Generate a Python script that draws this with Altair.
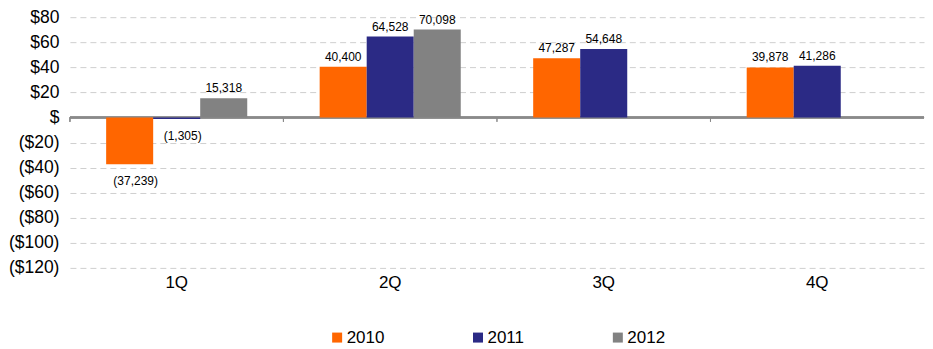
import altair as alt
import pandas as pd

quarters = ["1Q", "2Q", "3Q", "4Q"]
years = ["2010", "2011", "2012"]
v2010 = [-37239, 40400, 47287, 39878]
v2011 = [-1305, 64528, 54648, 41286]
v2012 = [15318, 70098, None, None]
colors = ["#FF6600", "#2B2A85", "#828282"]
y_ticks = [-120, -100, -80, -60, -40, -20, 0, 20, 40, 60, 80]

rows = []
for yr, vals in zip(years, [v2010, v2011, v2012]):
    for q, v in zip(quarters, vals):
        if v is not None:
            rows.append({"quarter": q, "year": yr, "v": v})
df = pd.DataFrame(rows)

FONT = "Liberation Sans"

base = alt.Chart(df).transform_calculate(
    m="datum.v / 1000",
    label="datum.v < 0 ? '(' + format(-datum.v, ',') + ')' : format(datum.v, ',')",
)

x_axis = alt.Axis(title=None, domain=False, ticks=False, grid=False,
                  labelAngle=0, labelFontSize=17, labelPadding=7,
                  labelColor="#000000", labelFont=FONT)
x_scale = alt.Scale(domain=quarters, paddingInner=0, paddingOuter=0)
x_enc = alt.X("quarter:N", scale=x_scale, axis=x_axis)
x_noaxis = alt.X("quarter:N", scale=x_scale, axis=None)
xo_enc = alt.XOffset("year:N", scale=alt.Scale(domain=years, paddingInner=0, paddingOuter=0.77))
y_scale = alt.Scale(domain=[-120, 80], nice=False, zero=False)
y_axis = alt.Axis(title=None, values=y_ticks, domain=False, ticks=False,
                  grid=True, gridColor="#cfcfcf", gridDash=[6, 4], gridWidth=1,
                  labelFontSize=17.5, labelPadding=11, labelColor="#000000",
                  labelFont=FONT, minExtent=62, maxExtent=62,
                  labelExpr="datum.value == 0 ? '$' : (datum.value > 0 ? '$' + datum.value : '($' + (-datum.value) + ')')")

bars = base.mark_bar().encode(
    x=x_enc,
    xOffset=xo_enc,
    y=alt.Y("m:Q", scale=y_scale, axis=y_axis),
    color=alt.Color("year:N", scale=alt.Scale(domain=years, range=colors),
                    legend=alt.Legend(title=None, orient="none", legendX=259, legendY=312,
                                      direction="horizontal", symbolType="square",
                                      symbolSize=100, symbolStrokeWidth=0,
                                      labelFontSize=17, labelFont=FONT, labelColor="#000000",
                                      labelOffset=1, columnPadding=85, padding=0)),
)

pos_text = base.transform_filter("datum.v > 0").mark_text(
    baseline="bottom", dy=-3, fontSize=12, font=FONT, color="#000000"
).encode(x=x_noaxis, xOffset=xo_enc, y=alt.Y("m:Q", scale=y_scale, axis=y_axis), text="label:N")

neg_text = base.transform_filter("datum.v < 0").mark_text(
    baseline="top", dy=12, dx=6, fontSize=12, font=FONT, color="#000000"
).encode(x=x_noaxis, xOffset=xo_enc, y=alt.Y("m:Q", scale=y_scale, axis=y_axis), text="label:N")

zero_line = base.mark_rule(color="#8a8a8a", strokeWidth=1.5).encode(
    y=alt.Y("z:Q", scale=y_scale, axis=y_axis)
).transform_calculate(z="0")

ticks = base.mark_rule(color="#8a8a8a", strokeWidth=1).transform_calculate(
    z0="0", z1="-3.5"
).encode(
    x=alt.X("quarter:N", scale=x_scale, axis=None, bandPosition=0),
    y=alt.Y("z0:Q", scale=y_scale, axis=y_axis),
    y2="z1:Q",
)

chart = alt.layer(zero_line, ticks, bars, pos_text, neg_text).resolve_axis(
    x="independent"
).properties(
    width=855, height=251, padding=0
).configure(font=FONT).configure_view(stroke=None)

chart.save("out.html", embed_options={"renderer": "svg", "actions": False})
